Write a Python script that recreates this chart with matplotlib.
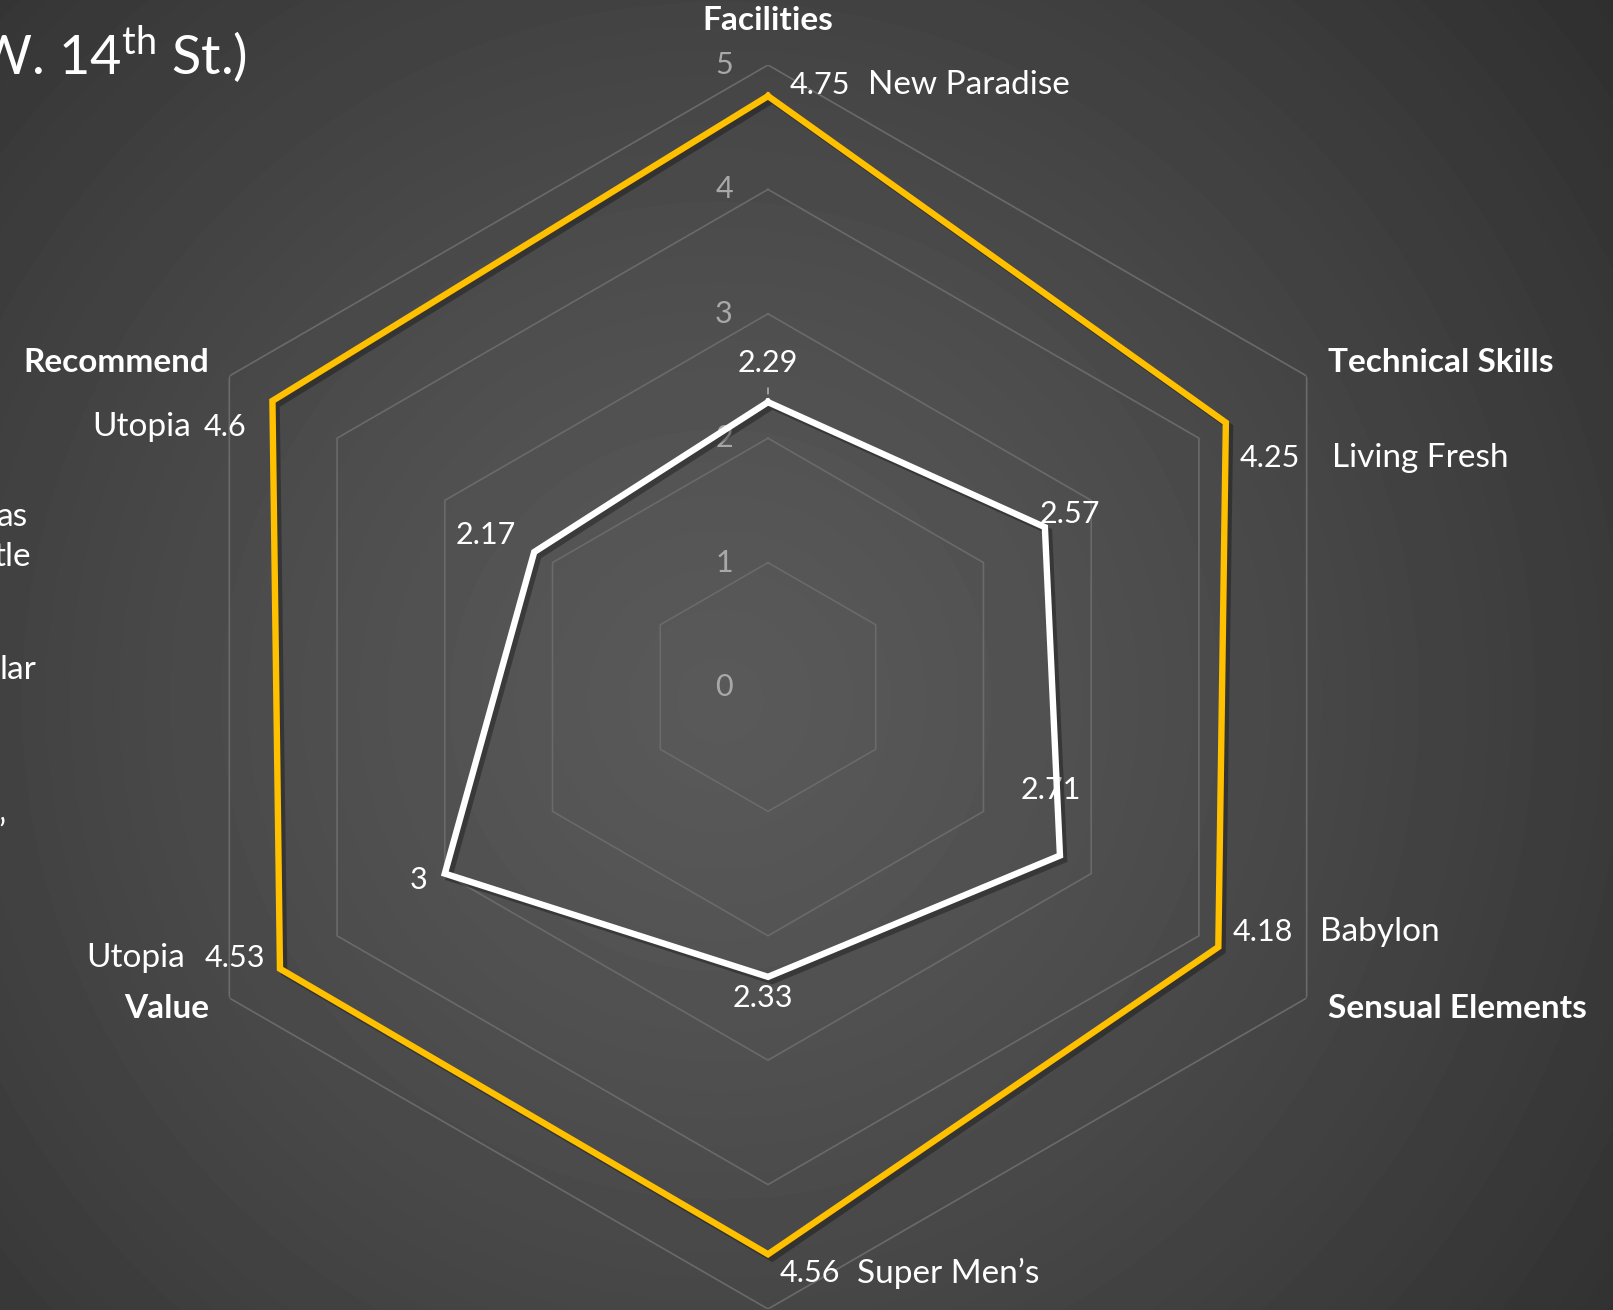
import numpy as np
import matplotlib.pyplot as plt
import matplotlib.patheffects as pe

# chart data
categories = ['Facilities', 'Technical Skills', 'Sensual Elements', '', 'Value', 'Recommend']
best_vals = [4.75, 4.25, 4.18, 4.56, 4.53, 4.6]
best_names = ['New Paradise', 'Living Fresh', 'Babylon', 'Super Men\u2019s', 'Utopia', 'Utopia']
this_vals = [2.29, 2.57, 2.71, 2.33, 3, 2.17]
rings = [0, 1, 2, 3, 4, 5]

W, H = 1613, 1310
plt.rcParams['font.family'] = ['Lato', 'DejaVu Sans']
plt.rcParams['mathtext.fontset'] = 'custom'
plt.rcParams['mathtext.rm'] = 'Lato'

fig = plt.figure(figsize=(W / 100, H / 100), dpi=100)

# background: soft radial gradient
bg = fig.add_axes([0, 0, 1, 1])
yy, xx = np.mgrid[0:H, 0:W]
d = np.sqrt((xx - 720) ** 2 + (yy - 700) ** 2) / 1050
shade = np.clip(0.35 - 0.15 * d ** 1.3, 0.18, 0.36)
bg.imshow(shade, cmap='gray', vmin=0, vmax=1, extent=[0, W, H, 0], aspect='auto')
bg.set_xlim(0, W)
bg.set_ylim(H, 0)
bg.axis('off')

# radar axes: centre at (768, 687) px, radius 622 px for value 5
cx, cy, R = 768, 687, 622
ax = fig.add_axes([(cx - R) / W, (H - cy - R) / H, 2 * R / W, 2 * R / H], polar=True)
ax.set_facecolor('none')
ax.set_theta_offset(np.pi / 2)
ax.set_theta_direction(-1)
ax.set_ylim(0, 5)
ax.axis('off')

n = len(categories)
theta = np.linspace(0, 2 * np.pi, n, endpoint=False)
closed = np.append(theta, theta[0])

for r in rings:
    if r > 0:
        ax.plot(closed, [r] * (n + 1), color='#6a6a6a', lw=1.2, zorder=1)
    ax.annotate(str(r), xy=(0, r), xytext=(-44, 0), textcoords='offset pixels',
                ha='center', va='center', fontsize=22, color='#a8a8a8')

shadow = [pe.SimpleLineShadow(offset=(3, -3), shadow_color='black', alpha=0.3), pe.Normal()]
ax.plot(closed, best_vals + best_vals[:1], color='#FFC000', lw=4.6, zorder=3,
        solid_joinstyle='miter', path_effects=shadow)
ax.plot(closed, this_vals + this_vals[:1], color='white', lw=4.6, zorder=4,
        solid_joinstyle='miter', path_effects=shadow)

# category labels (the bottom one falls outside the picture)
cat_pos = {0: (768, 20, 'center'), 1: (1328, 362, 'left'), 2: (1328, 1008, 'left'),
           4: (209, 1008, 'right'), 5: (209, 362, 'right')}
for i, (px, py, ha) in cat_pos.items():
    fig.text(px / W, 1 - py / H, categories[i], ha=ha, va='center',
             fontsize=24, fontweight='bold', color='white')

# best-in-class labels: value and shop name
val_off = [(22, 11, 'left'), (14, -35, 'left'), (14, 15, 'left'), (12, -19, 'left'),
           (-15, 11, 'right'), (-26, -26, 'right')]
name_off = [78, 92, 88, 77, -80, -55]
for i in range(n):
    dx, dy, ha = val_off[i]
    ax.annotate(f'{best_vals[i]:g}', xy=(theta[i], best_vals[i]), xytext=(dx, dy),
                textcoords='offset pixels', ha=ha, va='center', fontsize=22, color='white')
    ax.annotate(best_names[i], xy=(theta[i], best_vals[i]), xytext=(dx + name_off[i], dy),
                textcoords='offset pixels', ha=ha, va='center', fontsize=24, color='white')

# this shop's labels
lab_off = [(0, 39), (25, 13), (-9, 66), (-5, -21), (-26, -6), (-48, 17)]
for i in range(n):
    dx, dy = lab_off[i]
    ax.annotate(f'{this_vals[i]:g}', xy=(theta[i], this_vals[i]), xytext=(dx, dy),
                textcoords='offset pixels', ha='center', va='center', fontsize=22, color='white')
for i, top in [(0, 14), (2, 44)]:
    ax.annotate('', xy=(theta[i], this_vals[i]), xytext=(0, top), textcoords='offset pixels',
                arrowprops=dict(arrowstyle='-', color='#b0b0b0', lw=1.2, shrinkA=0, shrinkB=6))

# title and clipped side text from the slide
fig.text(247 / W, 1 - 55 / H, r'(W. 14$^{\mathrm{th}}$ St.)', ha='right', va='center',
         fontsize=39, color='white')
for s, px, py in [('as', 28, 517), ('tle', 31, 557), ('lar', 36, 670), ('\u2019', 5, 833)]:
    fig.text(px / W, 1 - py / H, s, ha='right', va='center', fontsize=24, color='white')

fig.savefig('out.png', dpi=100)
